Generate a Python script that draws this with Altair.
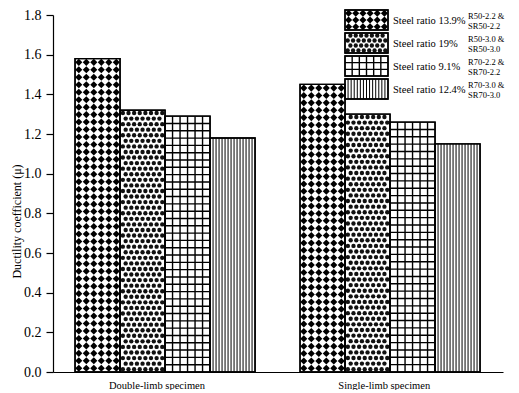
import altair as alt
import pandas as pd

# ---------------- data ----------------
groups = ["Double-limb specimen", "Single-limb specimen"]
series = ["Steel ratio 13.9%", "Steel ratio 19%", "Steel ratio 9.1%", "Steel ratio 12.4%"]
spec_line1 = ["R50-2.2 &", "R50-3.0 &", "R70-2.2 &", "R70-3.0 &"]
spec_line2 = ["SR50-2.2", "SR50-3.0", "SR70-2.2", "SR70-3.0"]
double_limb = [1.58, 1.32, 1.29, 1.18]
single_limb = [1.45, 1.30, 1.26, 1.15]
values_by_group = [double_limb, single_limb]
patterns = ["diamond", "circle", "grid", "vline"]
y_ticks = [0.0, 0.2, 0.4, 0.6, 0.8, 1.0, 1.2, 1.4, 1.6, 1.8]

# ---------------- layout ----------------
W, H = 450, 357
X_MAX, Y_MAX = 10.0, 1.8
PXX = W / X_MAX
PXY = H / Y_MAX
FONT = "Liberation Serif"


def rx(px):
    return px / PXX


def ry(py):
    return Y_MAX - py / PXY


rects, dots_d, dots_c, rules = [], [], [], []


def add_pattern(kind, x0, x1, y0, y1):
    wpx = (x1 - x0) * PXX
    hpx = (y1 - y0) * PXY
    if kind == "diamond":
        nx = max(1, round(wpx / 7.4))
        ny = max(1, round(hpx / 7.4))
        for j in range(ny):
            for i in range(nx):
                dots_d.append({"x": x0 + (i + 0.5) * (x1 - x0) / nx,
                               "y": y0 + (j + 0.5) * (y1 - y0) / ny})
    elif kind == "circle":
        sp = 5.6
        nx = max(1, round(wpx / sp))
        ny = max(1, round(hpx / sp))
        for j in range(ny):
            off = 0.5 if j % 2 == 0 else 1.0
            cnt = nx if j % 2 == 0 else nx - 1
            for i in range(cnt):
                dots_c.append({"x": x0 + (i + off) * (x1 - x0) / nx,
                               "y": y0 + (j + 0.5) * (y1 - y0) / ny})
    elif kind == "grid":
        nx = max(1, round(wpx / 7.3))
        ny = max(1, round(hpx / 7.3))
        for k in range(1, nx):
            xx = x0 + k * (x1 - x0) / nx
            rules.append({"x": xx, "x2": xx, "y": y0, "y2": y1, "w": 1.4})
        for k in range(1, ny):
            yy = y0 + k * (y1 - y0) / ny
            rules.append({"x": x0, "x2": x1, "y": yy, "y2": yy, "w": 1.4})
    elif kind == "vline":
        nx = max(1, round(wpx / 3.0))
        for k in range(1, nx):
            xx = x0 + k * (x1 - x0) / nx
            rules.append({"x": xx, "x2": xx, "y": y0, "y2": y1, "w": 1.0})


# bars
BAR_START = 0.49
GROUP_STEP = 5.0
for g, vals in enumerate(values_by_group):
    for s, v in enumerate(vals):
        x0 = BAR_START + g * GROUP_STEP + s
        x1 = x0 + 1.0
        rects.append({"x": x0, "x2": x1, "y": 0.0, "y2": v})
        add_pattern(patterns[s], x0, x1, 0.0, v)

# legend (pixel layout relative to plot origin)
LEG_X0, LEG_W = 292, 43
LEG_TOP, LEG_STEP, LEG_H = -5, 23, 20
TXT_X, SPEC_X = 340, 415
texts_main, texts_small = [], []
for s in range(4):
    top = LEG_TOP + s * LEG_STEP
    x0, x1 = rx(LEG_X0), rx(LEG_X0 + LEG_W)
    y1, y0 = ry(top), ry(top + LEG_H)
    rects.append({"x": x0, "x2": x1, "y": y0, "y2": y1})
    add_pattern(patterns[s], x0, x1, y0, y1)
    cy = top + LEG_H / 2
    texts_main.append({"x": rx(TXT_X), "y": ry(cy + 1), "t": series[s]})
    texts_small.append({"x": rx(SPEC_X), "y": ry(cy - 4.5), "t": spec_line1[s]})
    texts_small.append({"x": rx(SPEC_X), "y": ry(cy + 5.5), "t": spec_line2[s]})

rect_df = pd.DataFrame(rects)
dd_df = pd.DataFrame(dots_d)
dc_df = pd.DataFrame(dots_c)
rule_df = pd.DataFrame(rules)
tm_df = pd.DataFrame(texts_main)
ts_df = pd.DataFrame(texts_small)

xscale = alt.Scale(domain=[0, X_MAX], nice=False, zero=False)
yscale = alt.Scale(domain=[0, Y_MAX], nice=False)
xaxis = alt.Axis(values=[2.3, 7.35], ticks=False, grid=False,
                 labelExpr="datum.value < 5 ? 'Double-limb specimen' : 'Single-limb specimen'",
                 labelFont=FONT, labelFontSize=10.5, labelColor="black", labelPadding=8,
                 domainColor="black", domainWidth=1.2, title=None)
yaxis = alt.Axis(values=y_ticks, format=".1f", grid=False, tickSize=7, tickColor="black",
                 tickWidth=1.2, domainColor="black", domainWidth=1.2,
                 labelFont=FONT, labelFontSize=14, labelColor="black", labelPadding=5,
                 title="Ductility coefficient (μ)", titleFont=FONT, titleFontSize=12,
                 titleFontWeight="normal", titleColor="black",
                 titleX=-37, titleY=206, titleBaseline="middle")


def X(f="x"):
    return alt.X(f + ":Q", scale=xscale, axis=xaxis)


def Y(f="y"):
    return alt.Y(f + ":Q", scale=yscale, axis=yaxis)


bars = alt.Chart(rect_df).mark_rect(fill="white", stroke="black", strokeWidth=1.4).encode(
    x=X(), x2="x2:Q", y=Y(), y2="y2:Q")
diamonds = alt.Chart(dd_df).mark_point(shape="diamond", filled=True, color="black",
                                       opacity=1, size=50).encode(x=X(), y=Y())
circles = alt.Chart(dc_df).mark_point(shape="circle", filled=True, color="#111",
                                      opacity=1, size=19).encode(x=X(), y=Y())
rule_layer = alt.Chart(rule_df).mark_rule(color="black").encode(
    x=X(), x2="x2:Q", y=Y(), y2="y2:Q",
    strokeWidth=alt.StrokeWidth("w:Q", scale=None))
outline = alt.Chart(rect_df).mark_rect(fillOpacity=0, stroke="black", strokeWidth=1.4).encode(
    x=X(), x2="x2:Q", y=Y(), y2="y2:Q")
tmain = alt.Chart(tm_df).mark_text(align="left", baseline="middle", font=FONT,
                                   fontSize=10.5, color="black").encode(
    x=X(), y=Y(), text="t:N")
tsmall = alt.Chart(ts_df).mark_text(align="left", baseline="middle", font=FONT,
                                    fontSize=8.5, color="black").encode(
    x=X(), y=Y(), text="t:N")

chart = alt.layer(bars, diamonds, circles, rule_layer, outline, tmain, tsmall).properties(
    width=W, height=H,
    autosize=alt.AutoSizeParams(type="none"),
    padding={"left": 45, "top": 7, "right": 8, "bottom": 18},
    background="white",
).configure_view(stroke=None)

chart.save("out.html", embed_options={"renderer": "svg", "actions": False})
